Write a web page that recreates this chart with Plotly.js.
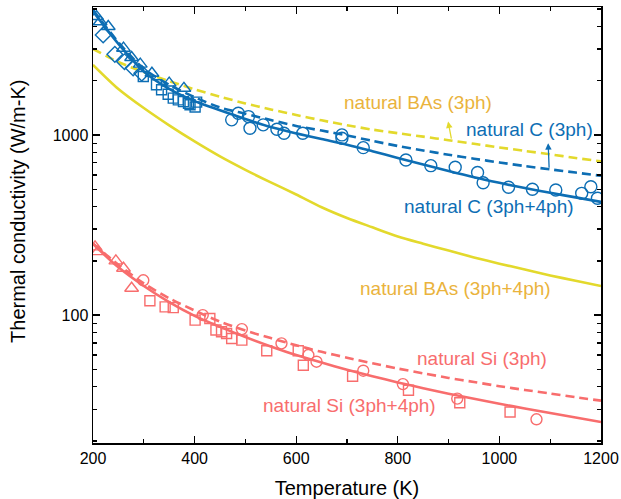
<!DOCTYPE html>
<html>
<head>
<meta charset="utf-8">
<script src="https://cdn.plot.ly/plotly-3.0.1.min.js"></script>
<style>
  html, body { margin: 0; padding: 0; background: #ffffff; }
  #chart { width: 621px; height: 499px; }
</style>
</head>
<body>
<div id="chart"></div>
<script>
// Temperature grid (K) for the calculated curves
const temps = [200, 250, 300, 350, 400, 450, 500, 550, 600, 650, 700,
               750, 800, 850, 900, 950, 1000, 1050, 1100, 1150, 1200];

// Calculated thermal conductivity (W/m-K)
const cFull   = [4850, 3200, 2250, 1800, 1540, 1370, 1225, 1105, 1020, 948, 882,
                 812, 745, 685, 630, 582, 542, 507, 477, 450, 425];
const c3ph    = [4950, 3270, 2330, 1900, 1620, 1420, 1310, 1210, 1122, 1057, 993,
                 927, 868, 820, 776, 738, 703, 672, 644, 618, 593];
const basFull = [2450, 1800, 1410, 1130, 920, 760, 640, 545, 467, 397, 346,
                 307, 273, 249, 228, 209, 193, 179, 166, 155, 145];
const bas3ph  = [3000, 2540, 2230, 1990, 1790, 1630, 1495, 1385, 1290, 1205, 1132,
                 1070, 1022, 978, 935, 893, 852, 815, 780, 745, 713];
const siFull  = [248, 184, 145, 118, 99, 86, 75.5, 67, 60, 54.5, 49.8,
                 45.8, 42.3, 39.3, 36.6, 34.3, 32.2, 30.3, 28.6, 27, 25.5];
const si3ph   = [250, 190, 150, 124, 106, 92, 82, 74.5, 68, 62.5, 58,
                 54, 50.5, 47.5, 44.8, 42.5, 40.3, 38.4, 36.7, 35, 33.5];

// Measured natural diamond
const cTriT = [207, 214, 230, 260, 276, 293, 316, 350, 379];
const cTriK = [4540, 4250, 4000, 3030, 2690, 2470, 2200, 1940, 1815];
const cDiaT = [220, 243, 262, 279, 296];
const cDiaK = [3590, 2800, 2550, 2350, 2200];
const cSqT  = [299, 325, 335, 348, 358, 368, 378, 388, 391, 401, 404];
const cSqK  = [2110, 1900, 1780, 1680, 1600, 1565, 1530, 1500, 1470, 1430, 1520];
const cCirT = [473, 486, 506, 509, 535, 562, 576, 613, 690, 690, 732, 816, 865,
               913, 957, 968, 1018, 1065, 1111, 1162, 1180, 1193];
const cCirK = [1212, 1320, 1264, 1089, 1137, 1076, 1022, 1022, 1000, 959, 850, 726, 675,
               662, 618, 543, 512, 499, 495, 474, 516, 445];

// Measured natural silicon
const siTriT = [204, 210, 245, 260, 276];
const siTriK = [239, 225, 200, 182, 141];
const siCirT = [299, 416, 493, 571, 624, 640, 732, 810, 917, 1073];
const siCirK = [156, 100, 83.6, 69.7, 60, 55.1, 49.1, 41.4, 34.4, 26.4];
const siSqT  = [312, 342, 358, 401, 430, 442, 453, 463, 473, 493, 542, 604, 614,
                711, 821, 922, 1021];
const siSqK  = [120, 111, 110, 93.8, 95.7, 82.6, 80.8, 79.1, 74.2, 72.6, 63.4, 63.4, 52.7,
                45.8, 38.3, 32.6, 29];

const BLUE = '#0D6EB4';
const YEL = '#E3D92C';
const YEL_TXT = '#EAB33C';
const PINK = '#F86D6D';
const FONT = 'Arial, "Liberation Sans", sans-serif';

function curve(y, color, dashed) {
  return {
    x: temps, y: y, type: 'scatter', mode: 'lines',
    line: { color: color, width: 2.6, shape: 'spline', smoothing: 0.8,
            dash: dashed ? '9px,5px' : 'solid' },
    hoverinfo: 'skip'
  };
}
// open symbols take their stroke colour from marker.color
function points(x, y, color, symbol, size) {
  return {
    x: x, y: y, type: 'scatter', mode: 'markers',
    marker: { symbol: symbol, size: size, color: color,
              line: { color: color, width: 1.4 } }
  };
}

const traces = [
  curve(bas3ph, YEL, true),
  curve(basFull, YEL, false),
  curve(c3ph, BLUE, true),
  curve(cFull, BLUE, false),
  curve(si3ph, PINK, true),
  curve(siFull, PINK, false),
  points(cTriT, cTriK, BLUE, 'triangle-up-open', 12),
  points(cDiaT, cDiaK, BLUE, 'diamond-open', 12),
  points(cSqT, cSqK, BLUE, 'square-open', 10),
  points(cCirT, cCirK, BLUE, 'circle-open', 12),
  points(siTriT, siTriK, PINK, 'triangle-up-open', 12),
  points(siCirT, siCirK, PINK, 'circle-open', 11),
  points(siSqT, siSqK, PINK, 'square-open', 10)
];

function label(text, t, logk, color) {
  return { text: text, x: t, y: logk, xref: 'x', yref: 'y',
           xanchor: 'left', yanchor: 'middle', showarrow: false,
           font: { family: FONT, size: 19, color: color } };
}
function pointer(t0, k0, t1, k1, color) {
  return { text: '', x: t1, y: Math.log10(k1), ax: t0, ay: Math.log10(k0),
           xref: 'x', yref: 'y', axref: 'x', ayref: 'y',
           showarrow: true, arrowhead: 2, arrowsize: 1, arrowwidth: 1.3,
           arrowcolor: color };
}

const minorY = [20, 30, 40, 50, 60, 70, 80, 90,
                200, 300, 400, 500, 600, 700, 800, 900,
                2000, 3000, 4000, 5000];

const layout = {
  width: 621, height: 499,
  margin: { l: 93, r: 20, t: 7, b: 56 },
  paper_bgcolor: '#ffffff', plot_bgcolor: '#ffffff',
  showlegend: false,
  font: { family: FONT, color: '#000000' },
  xaxis: {
    range: [200, 1200],
    tickmode: 'array', tickvals: [200, 400, 600, 800, 1000, 1200],
    ticks: 'inside', ticklen: 7, tickwidth: 1.3, tickcolor: '#000',
    minor: { dtick: 100, ticks: 'inside', ticklen: 4, tickwidth: 1.3, tickcolor: '#000', showgrid: false },
    showline: true, linecolor: '#000', linewidth: 1.5, mirror: 'ticks',
    showgrid: false, zeroline: false,
    tickfont: { family: FONT, size: 16, color: '#000' },
    title: { text: 'Temperature (K)', font: { family: FONT, size: 20, color: '#000' }, standoff: 16 }
  },
  yaxis: {
    type: 'log', range: [1.29, 3.71],
    tickmode: 'array', tickvals: [100, 1000], ticktext: ['100', '1000'],
    ticks: 'inside', ticklen: 7, tickwidth: 1.3, tickcolor: '#000',
    minor: { tickmode: 'array', tickvals: minorY, ticks: 'inside', ticklen: 4, tickwidth: 1.3, tickcolor: '#000', showgrid: false },
    showline: true, linecolor: '#000', linewidth: 1.5, mirror: 'ticks',
    showgrid: false, zeroline: false,
    tickfont: { family: FONT, size: 16, color: '#000' }
  },
  annotations: [
    { text: 'Thermal conductivity (W/m-K)', xref: 'paper', yref: 'paper',
      x: -0.1476, y: 0.53, xanchor: 'center', yanchor: 'middle', textangle: -90,
      showarrow: false, font: { family: FONT, size: 20, color: '#000' } },
    label('natural BAs (3ph)', 690, 3.178, YEL_TXT),
    label('natural C (3ph)', 930, 3.028, BLUE),
    label('natural C (3ph+4ph)', 808, 2.602, BLUE),
    label('natural BAs (3ph+4ph)', 722, 2.15, YEL_TXT),
    label('natural Si (3ph)', 834, 1.759, PINK),
    label('natural Si (3ph+4ph)', 530, 1.5, PINK),
    pointer(906, 935, 899, 1186, YEL),
    pointer(1098, 645, 1096, 900, BLUE)
  ]
};

Plotly.newPlot('chart', traces, layout, { staticPlot: true, displayModeBar: false });
</script>
</body>
</html>
